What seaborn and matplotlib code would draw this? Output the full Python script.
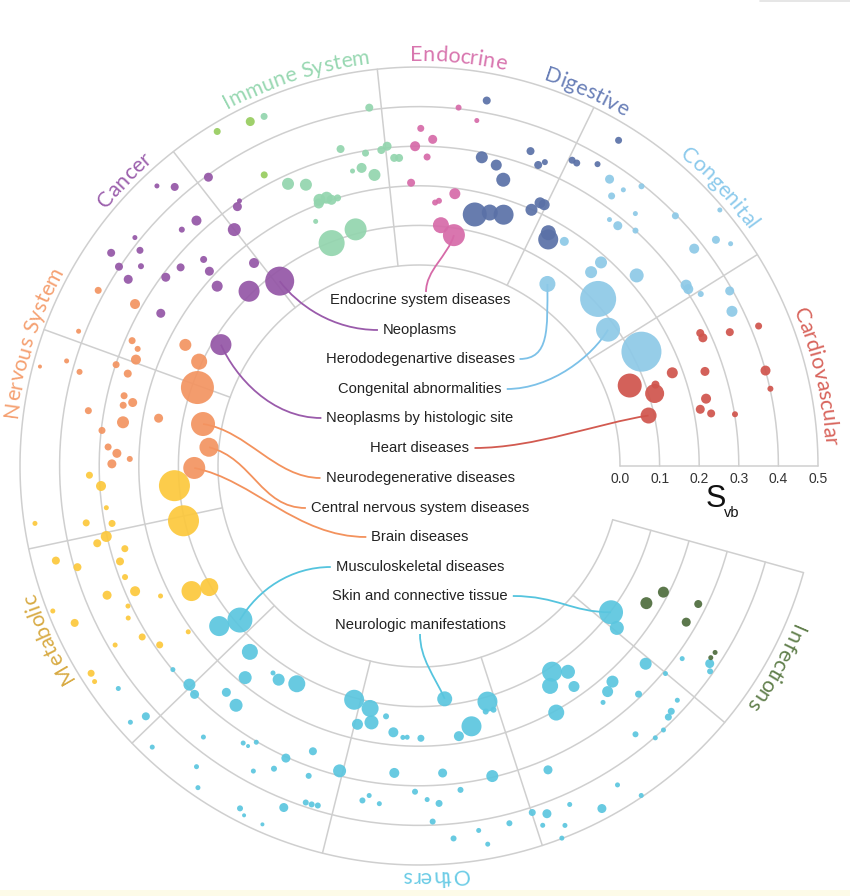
import numpy as np
import pandas as pd
import matplotlib
matplotlib.use("Agg")
import matplotlib.pyplot as plt
import seaborn as sns
from matplotlib.path import Path
from matplotlib.patches import PathPatch, Rectangle
from matplotlib.lines import Line2D
from matplotlib.font_manager import FontProperties

# -----------------------------
# Data: angle (deg), S_vb value and dot size per disease class
# -----------------------------
cardio_theta = [22.4, 25.3, 24.3, 23.3, 20.2, 18.3, 15.4, 12.4, 20.9, 17.1, 19.0, 13.2, 11.4, 10.2, 9.3, 12.4]
cardio_s = [0.420, 0.278, 0.279, 0.347, 0.174, 0.253, 0.400, 0.401, 0.062, 0.115, 0.124, 0.237, 0.217, 0.242, 0.301, 0.086]
cardio_n = [3.5, 4, 4.5, 4, 5.5, 4.5, 5, 3, 12, 9.5, 4, 5, 4.5, 4, 3, 8]

congenital_theta = [57.1, 56.4, 53.5, 51.5, 54.5, 49.4, 52.3, 50.4, 47.4, 44.3, 40.4, 37.3, 35.5, 38.3, 54.8, 48.4,
                    48.2, 41.2, 43.0, 35.8, 27.2, 34.1, 33.3, 31.4, 29.4, 26.3]
congenital_s = [0.168, 0.362, 0.360, 0.395, 0.330, 0.332, 0.279, 0.280, 0.300, 0.397, 0.490, 0.435, 0.459, 0.378, 0.055,
                0.147, 0.182, 0.223, 0.111, 0.081, 0.124, 0.307, 0.306, 0.326, 0.393, 0.374]
congenital_n = [4.5, 4.5, 2.5, 3, 3.5, 2.5, 2.5, 4.5, 3, 3.5, 2.5, 4, 2.5, 5, 8, 6, 6, 7, 18, 12, 20, 5.5, 5, 3, 4.5, 5.5]

digestive_theta = [79.5, 58.5, 70.5, 78.5, 75.6, 68.4, 67.5, 63.4, 62.5, 59.4, 73.6, 77.5, 74.4, 71.4, 66.3, 65.3, 64.4,
                   61.0, 60.3]
digestive_s = [0.431, 0.457, 0.336, 0.288, 0.277, 0.310, 0.323, 0.356, 0.355, 0.378, 0.246, 0.143, 0.157, 0.162, 0.199,
               0.224, 0.224, 0.166, 0.151]
digestive_n = [4, 3.5, 4, 6, 5.5, 4, 3, 3.5, 3.5, 3, 7, 12, 8, 10, 6, 5.5, 5.5, 7.5, 10]

endocrine_theta = [83.7, 80.5, 89.7, 87.6, 90.7, 88.5, 91.6, 82.5, 86.5, 85.7, 84.8, 81.4]
endocrine_s = [0.403, 0.377, 0.345, 0.318, 0.300, 0.273, 0.208, 0.186, 0.159, 0.164, 0.103, 0.082]
endocrine_n = [3, 2.5, 3.5, 4.5, 5, 3.5, 4, 5.5, 3, 3, 8, 11]

immune_theta = [97.9, 113.9, 103.9, 99.7, 96.8, 95.7, 94.6, 93.7, 100.9, 102.7, 98.7, 114.9, 111.9, 110.5, 109.0,
                108.2, 106.9, 110.9, 112.9, 105.0, 111.4]
immune_s = [0.406, 0.458, 0.317, 0.294, 0.296, 0.304, 0.273, 0.272, 0.259, 0.256, 0.236, 0.278, 0.258, 0.210, 0.209,
            0.200, 0.200, 0.202, 0.163, 0.111, 0.097]
immune_n = [4, 3.5, 4, 3.5, 4, 4.5, 4, 4, 5, 2.5, 6, 6, 6, 6, 6, 5, 3.5, 5, 2.5, 11, 13]

immune_alt_theta = [116.1, 121.1, 118.0]
immune_alt_s = [0.461, 0.479, 0.325]
immune_alt_n = [4.5, 3.5, 3.5]

cancer_theta = [126.1, 131.2, 133.1, 124.1, 125.0, 132.2, 135.1, 128.0, 141.2, 142.3, 145.3, 136.2, 129.1, 146.4,
                144.3, 140.2, 137.1, 143.3, 147.3, 138.3, 134.2, 127.0, 149.4, 148.5]
cancer_s = [0.395, 0.429, 0.461, 0.301, 0.292, 0.329, 0.338, 0.250, 0.413, 0.383, 0.438, 0.246, 0.153, 0.402, 0.357,
            0.276, 0.215, 0.290, 0.365, 0.175, 0.108, 0.077, 0.250, 0.079]
cancer_n = [4.5, 4, 2.5, 2.5, 4.5, 5, 3, 6.5, 2.5, 3.5, 4, 3.5, 5, 4, 3, 4, 4.5, 4.5, 4.5, 5.5, 10.5, 14.5, 4.5, 10.5]

nervous_theta = [151.3, 150.3, 158.4, 152.6, 156.4, 157.4, 159.4, 165.3, 163.4, 164.5, 161.5, 162.4, 154.6, 160.5,
                 166.6, 167.5, 168.4, 170.5, 169.6, 171.6, 169.0, 173.6, 174.9, 176.5, 177.6, 178.6, 179.6, 180.5]
nervous_s = [0.416, 0.318, 0.417, 0.157, 0.283, 0.262, 0.256, 0.482, 0.421, 0.382, 0.299, 0.264, 0.107, 0.086, 0.258,
             0.233, 0.255, 0.339, 0.161, 0.248, 0.048, 0.298, 0.025, 0.279, 0.256, 0.223, 0.268, 0.060]
nervous_n = [3.5, 5, 2.5, 6, 3.5, 3, 5, 2, 2.5, 3, 3.5, 4, 8, 16.5, 3.5, 4.5, 3.5, 3.5, 4.5, 6, 12, 3.5, 9.5, 3.5,
             4.5, 3, 4.5, 11]

metabolic_theta = [181.6, 183.6, 184.6, 193.1, 187.6, 189.7, 190.6, 188.5, 192.7, 193.5, 195.7, 194.6, 197.7, 196.5,
                   200.7, 203.8, 208.8, 210.0, 202.5, 206.7, 201.6, 205.7, 207.6, 204.5, 211.7, 215.7, 214.6, 210.5,
                   212.3, 213.6]
metabolic_s = [0.325, 0.297, 0.112, 0.103, 0.289, 0.345, 0.281, 0.473, 0.302, 0.328, 0.264, 0.440, 0.285, 0.392,
               0.286, 0.276, 0.148, 0.104, 0.345, 0.223, 0.487, 0.308, 0.321, 0.448, 0.314, 0.210, 0.288, 0.383,
               0.472, 0.476]
metabolic_n = [3.5, 5, 15.5, 15.5, 2.5, 3.5, 3.5, 2.5, 5.5, 4, 3.5, 4, 4, 4, 3, 5, 10, 9, 4.5, 2.5, 2.5, 2.5, 2.5, 4,
               3.5, 2.5, 3.5, 2.5, 3.5, 2.5]

others_theta = [218.7, 220.7, 227.7, 230.6, 219.6, 223.6, 225.5, 229.6, 232.6, 234.8, 236.7, 240.7,
                216.5, 222.5, 221.6, 231.5, 226.5, 237.6, 238.6, 239.5,
                249.6, 245.5, 233.5, 241.5, 244.4, 250.4, 255.4, 265.4, 235.5,
                260.4, 261.4, 263.3, 269.3, 242.4, 243.4, 248.4, 251.4, 252.4, 253.4, 246.4,
                254.5, 258.6, 259.5, 256.6, 262.5, 264.5, 266.6, 267.5, 270.4, 276.3, 278.4, 281.4, 286.2, 285.2, 287.0,
                300.8, 302.9, 305.9, 305.1, 299.1, 307.9, 309.9, 311.9, 313.9, 308.9,
                293.0, 283.3, 274.4, 277.3, 271.4, 273.4, 272.2, 275.3, 279.3, 280.3, 284.2, 288.1, 290.2, 289.0, 292.1,
                294.0, 298.1, 291.0, 301.9, 304.0,
                318.9, 319.9, 323.8, 317.8, 315.8, 314.8, 312.8, 311.0, 325.8, 324.8,
                322.7, 320.7]
others_s = [0.139, 0.089, 0.127, 0.184, 0.299, 0.293, 0.301, 0.243, 0.253, 0.132, 0.138, 0.123,
            0.437, 0.428, 0.467, 0.367, 0.471, 0.321, 0.321, 0.302,
            0.261, 0.303, 0.437, 0.369, 0.340, 0.323, 0.288, 0.270, 0.478,
            0.349, 0.334, 0.351, 0.315, 0.468, 0.479, 0.420, 0.389, 0.389, 0.387, 0.480,
            0.105, 0.117, 0.151, 0.163, 0.130, 0.168, 0.179, 0.178, 0.180, 0.084, 0.182, 0.163, 0.112, 0.135, 0.136,
            0.139, 0.111, 0.134, 0.173, 0.205, 0.249, 0.235, 0.224, 0.292, 0.363,
            0.326, 0.297, 0.270, 0.317, 0.335, 0.346, 0.391, 0.437, 0.425, 0.463, 0.423, 0.413, 0.428, 0.452, 0.472,
            0.428, 0.473, 0.499, 0.441, 0.496,
            0.252, 0.306, 0.316, 0.373, 0.381, 0.386, 0.401, 0.402, 0.380, 0.392,
            0.102, 0.138]
others_n = [10, 12.5, 8, 6.5, 2.5, 6, 4.5, 4.5, 6.5, 2.5, 6, 8.5,
            2.5, 4, 2.5, 2.5, 2.5, 2.5, 2, 2.5,
            4, 4.5, 2.5, 2.5, 3, 3, 6.5, 5, 2.5,
            3, 2.5, 2.5, 3, 3, 2, 4.5, 3, 3, 3, 2,
            10, 8.5, 7, 5.5, 3, 5, 2.5, 2.5, 3.5, 7.5, 5, 10, 10, 3, 3,
            8, 10, 7, 5.5, 8, 2.5, 5.5, 6, 3.5, 3,
            4.5, 6, 4.5, 3, 2.5, 3.5, 3, 3, 2.5, 2.5, 3, 3.5, 4.5, 2.5, 2.5,
            2.5, 4.5, 2.5, 2.5, 2.5,
            6, 2.5, 2.5, 2.5, 3.5, 3.5, 2.5, 2.5, 4.5, 3,
            12, 7]

infections_theta = [328.9, 332.7, 333.7, 329.7, 327.8, 326.7]
infections_s = [0.163, 0.187, 0.279, 0.274, 0.376, 0.374]
infections_n = [6, 5.5, 4, 4.5, 2.5, 2.5]

# category labels around the rim (name, centre angle in deg)
class_names = ["Cardiovascular", "Congenital", "Digestive", "Endocrine", "Immune System",
               "Cancer", "Nervous System", "Metabolic", "Others", "Infections"]
class_angles = [12.7, 42.8, 65.9, 84.5, 107.6, 135.9, 162.2, 204.9, 272.3, 330.5]

# highlighted diseases with the dot they point to
note_labels = ["Endocrine system diseases", "Neoplasms", "Herododegenartive diseases", "Congenital abnormalities",
               "Neoplasms by histologic site", "Heart diseases", "Neurodegenerative diseases",
               "Central nervous system diseases", "Brain diseases", "Musculoskeletal diseases",
               "Skin and connective tissue", "Neurologic manifestations"]
note_class = ["Endocrine", "Cancer", "Congenital", "Congenital", "Cancer", "Cardiovascular", "Nervous System",
              "Nervous System", "Nervous System", "Others", "Others", "Others"]
note_theta = [81.4, 127.0, 54.8, 35.8, 148.5, 12.4, 169.0, 174.9, 180.5, 220.7, 322.7, 276.3]
note_s = [0.082, 0.077, 0.055, 0.081, 0.079, 0.086, 0.048, 0.025, 0.060, 0.089, 0.102, 0.084]

ticks = [0.0, 0.1, 0.2, 0.3, 0.4, 0.5]

# -----------------------------
# Colours
# -----------------------------
palette = {
    "Cardiovascular": "#d0544c", "Congenital": "#8dc9e7", "Digestive": "#5a71a7", "Endocrine": "#d66aa8",
    "Immune System": "#93d5ae", "Immune (other)": "#97cc5e", "Cancer": "#9456a6", "Nervous System": "#f39461",
    "Metabolic": "#fcc83c", "Others": "#5bc6df", "Infections": "#4e6c3d",
}
label_colors = {
    "Cardiovascular": "#d8645c", "Congenital": "#8ccaec", "Digestive": "#6a80b8", "Endocrine": "#d874ae",
    "Immune System": "#98d8b2", "Cancer": "#9c60ad", "Nervous System": "#f5a172", "Metabolic": "#d8ab44",
    "Others": "#6ccce6", "Infections": "#62804d",
}
line_colors = {"Endocrine": "#d66aa8", "Cancer": "#9a5bab", "Congenital": "#7cc1e8", "Cardiovascular": "#d25a50",
               "Nervous System": "#f3925d", "Others": "#55c4de"}
GRID = "#cfcfcf"

sns.set_style("white")
plt.rcParams["font.family"] = ["Liberation Sans", "DejaVu Sans"]

groups = [
    ("Cardiovascular", cardio_theta, cardio_s, cardio_n),
    ("Congenital", congenital_theta, congenital_s, congenital_n),
    ("Digestive", digestive_theta, digestive_s, digestive_n),
    ("Endocrine", endocrine_theta, endocrine_s, endocrine_n),
    ("Immune System", immune_theta, immune_s, immune_n),
    ("Immune (other)", immune_alt_theta, immune_alt_s, immune_alt_n),
    ("Cancer", cancer_theta, cancer_s, cancer_n),
    ("Nervous System", nervous_theta, nervous_s, nervous_n),
    ("Metabolic", metabolic_theta, metabolic_s, metabolic_n),
    ("Others", others_theta, others_s, others_n),
    ("Infections", infections_theta, infections_s, infections_n),
]
df = pd.concat([pd.DataFrame({"category": g, "theta": np.radians(t), "svb": s, "n": n})
                for g, t, s, n in groups], ignore_index=True)
df["area"] = (1.44 * df["n"]) ** 2
df = df.sort_values("area", ascending=False)

# -----------------------------
# Figure / polar axes with a hole in the middle
# -----------------------------
W, H = 850, 896
CX, CY = 419, 466          # centre of the rings (pixels from top-left)
R0, SCALE = 201, 396       # inner radius and pixels per unit of S_vb
RMAX = 0.5
outer = R0 + SCALE * RMAX

fig = plt.figure(figsize=(W / 100, H / 100), dpi=100)
fig.patch.set_facecolor("white")
ax = fig.add_axes([(CX - outer) / W, (H - CY - outer) / H, 2 * outer / W, 2 * outer / H], projection="polar")

sns.scatterplot(data=df, x="theta", y="svb", hue="category", palette=palette, size="area",
                sizes=(df["area"].min(), df["area"].max()), legend=False, linewidth=0, alpha=0.92,
                ax=ax, zorder=3, clip_on=False)

ax.set_ylim(0, RMAX)
ax.set_rorigin(-R0 / SCALE)
ax.set_xlabel("")
ax.set_ylabel("")
ax.axis("off")

# rings and sector lines
RING_END = 344.5
th = np.radians(np.linspace(0, RING_END, 600))
for v in ticks:
    ax.plot(th, np.full_like(th, v), color=GRID, lw=1.1, zorder=1, clip_on=False)
for a in list(range(0, 321, 32)) + [RING_END]:
    ax.plot([np.radians(a)] * 2, [0, RMAX], color=GRID, lw=1.1, zorder=1, clip_on=False)

# radial axis labels
for v in ticks:
    ax.annotate(f"{v:.1f}", xy=(0, v), xytext=(0, -13), textcoords="offset pixels", annotation_clip=False,
                ha="center", va="center", fontsize=10, color="#333333")
ax.annotate("S", xy=(0, 0.25), xytext=(-3, -33), textcoords="offset pixels", annotation_clip=False,
            ha="center", va="center", fontsize=22, color="#111111")
ax.annotate("vb", xy=(0, 0.25), xytext=(13, -47), textcoords="offset pixels", annotation_clip=False,
            ha="center", va="center", fontsize=10.5, color="#111111")

# curved class labels
renderer = fig.canvas.get_renderer()
LABEL_R = 0.515
label_prop = FontProperties(family=["Lato", "DejaVu Sans"], weight="normal", size=15.5)


def text_width(t):
    if not t:
        return 0.0
    return renderer.get_text_width_height_descent(t, label_prop, ismath=False)[0]


def arc_label(text, center_deg, color):
    total = text_width(text)
    radius_px = R0 + SCALE * LABEL_R
    for i, ch in enumerate(text):
        if ch == " ":
            continue
        mid = text_width(text[:i + 1]) - text_width(ch) / 2 - total / 2
        ang = center_deg - np.degrees(mid / radius_px)
        ax.text(np.radians(ang), LABEL_R, ch, rotation=ang - 90, rotation_mode="anchor",
                ha="center", va="baseline", color=color, fontproperties=label_prop, clip_on=False)


for name, ang in zip(class_names, class_angles):
    arc_label(name, ang, label_colors[name])

# centre annotations
note_y = [300, 330, 359, 389, 418, 448, 478, 508, 537, 567, 596, 625]
note_side = ["top", "left", "right", "right", "left", "right", "left", "left", "left", "left", "right", "bottom"]
# curve handles: (direction at text, length, direction at dot, length)
note_handles = [((0, 1), 22, (-0.3, -1), 22), ((-1, 0), 45, (0.6, -0.8), 30), ((1, 0), 30, (0, -1), 45),
                ((1, 0), 45, (-0.5, -0.85), 30), ((-1, 0), 50, (0.4, -0.9), 35), ((1, 0), 60, (-1, -0.15), 50),
                ((-1, 0), 45, (1, -0.15), 45), ((-1, 0), 45, (1, -0.25), 45), ((-1, 0), 70, (1, -0.2), 60),
                ((-1, 0), 40, (0.5, 0.85), 35), ((1, 0), 45, (-1, 0), 40), ((0, -1), 25, (-0.4, 0.9), 25)]

note_texts = []
for lbl, y in zip(note_labels, note_y):
    note_texts.append(fig.text(420 / W, 1 - y / H, lbl, ha="center", va="center", fontsize=10.6, color="#222222"))

fig.canvas.draw()
for txt, cls, t, s, side, (a, la, b, lb) in zip(note_texts, note_class, note_theta, note_s, note_side, note_handles):
    bb = txt.get_window_extent(renderer)
    ym = (bb.y0 + bb.y1) / 2
    if side == "left":
        p0 = np.array([bb.x0 - 5, ym])
    elif side == "right":
        p0 = np.array([bb.x1 + 5, ym])
    elif side == "top":
        p0 = np.array([(bb.x0 + bb.x1) / 2 + 6, bb.y1 + 1])
    else:
        p0 = np.array([(bb.x0 + bb.x1) / 2, bb.y0 - 2])
    p3 = ax.transData.transform((np.radians(t), s))
    a = np.array(a, float) / np.hypot(*a)
    b = np.array(b, float) / np.hypot(*b)
    pts = np.array([p0, p0 + la * a, p3 + lb * b, p3])
    pts = fig.transFigure.inverted().transform(pts)
    path = Path(pts, [Path.MOVETO, Path.CURVE4, Path.CURVE4, Path.CURVE4])
    patch = PathPatch(path, facecolor="none", edgecolor=line_colors[cls], lw=1.3,
                      transform=fig.transFigure, zorder=2, clip_on=False)
    ax.add_artist(patch)

# page edge details
fig.add_artist(Rectangle((0, 0), 1, 6 / H, transform=fig.transFigure, facecolor="#fdfbe8", edgecolor="none"))
fig.add_artist(Line2D([760 / W, 1], [1 - 1 / H] * 2, transform=fig.transFigure, color="#e2e2e2", lw=1.2))

fig.savefig("out.png", dpi=100, facecolor="white")
